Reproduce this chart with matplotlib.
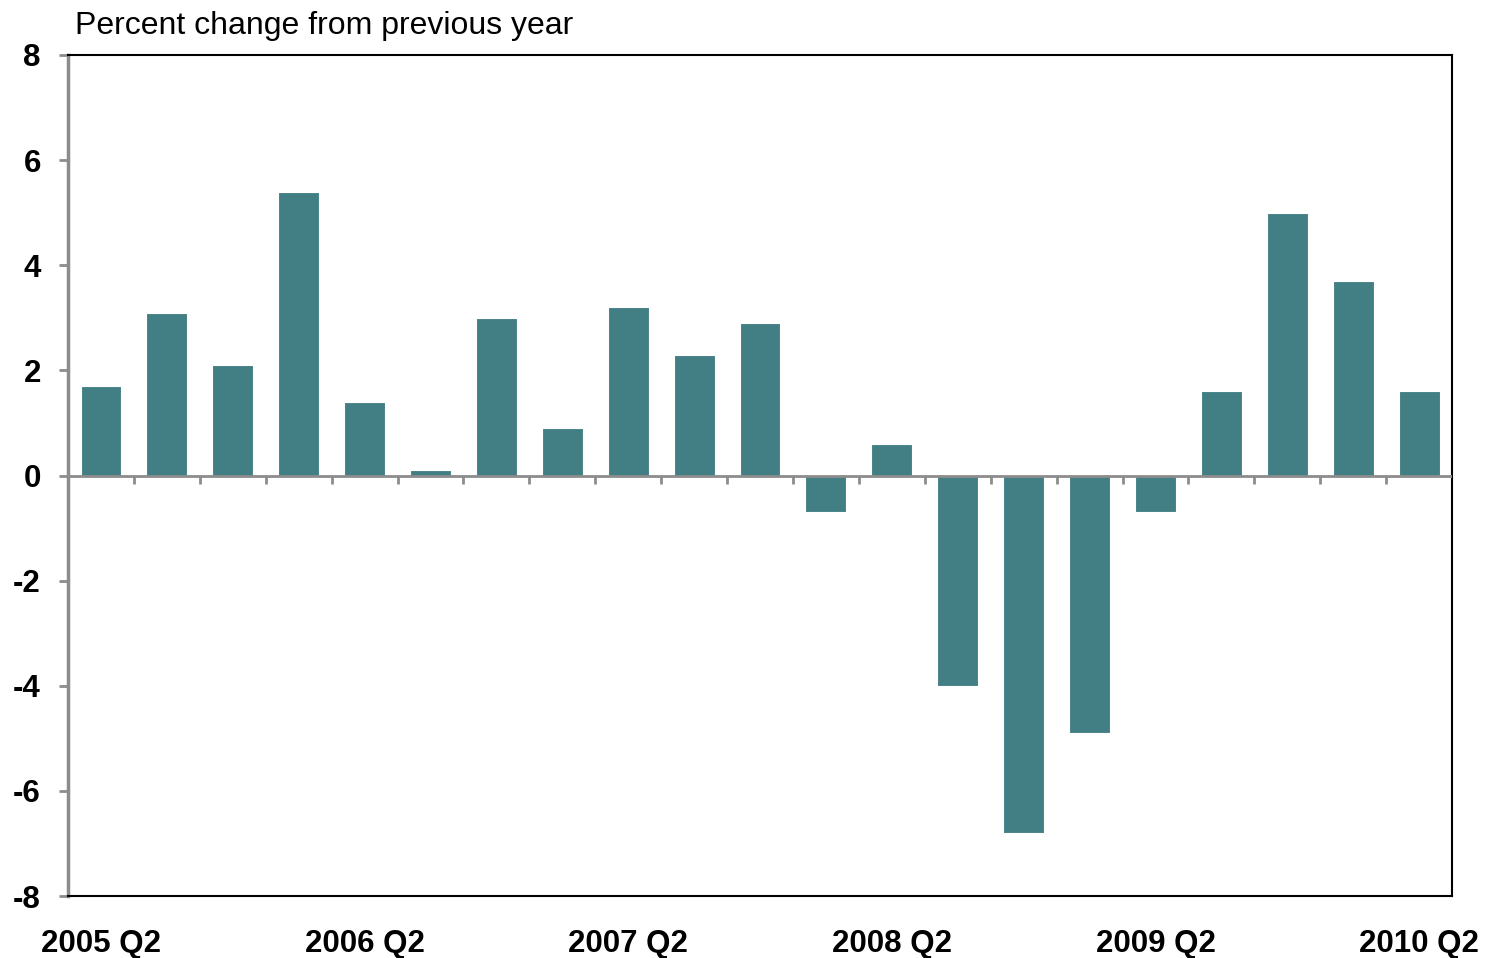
import numpy as np
import matplotlib.pyplot as plt

plt.rcParams['font.family'] = ['Liberation Sans', 'DejaVu Sans']

# Data: percent change from previous year, quarterly 2005 Q2 - 2010 Q2
quarters = ['2005 Q2', '2005 Q3', '2005 Q4', '2006 Q1',
            '2006 Q2', '2006 Q3', '2006 Q4', '2007 Q1',
            '2007 Q2', '2007 Q3', '2007 Q4', '2008 Q1',
            '2008 Q2', '2008 Q3', '2008 Q4', '2009 Q1',
            '2009 Q2', '2009 Q3', '2009 Q4', '2010 Q1',
            '2010 Q2']
values = [1.7, 3.1, 2.1, 5.4, 1.4, 0.1, 3.0, 0.9, 3.2, 2.3, 2.9, -0.7,
          0.6, -4.0, -6.8, -4.9, -0.7, 1.6, 5.0, 3.7, 1.6]
label_every = 4
y_ticks = [-8, -6, -4, -2, 0, 2, 4, 6, 8]

BAR = "#427F85"
GREY = "#8C8C8C"

fig = plt.figure(figsize=(14.85, 9.58), dpi=100, facecolor='white')
ax = fig.add_axes([0.0458, 0.0647, 0.9320, 0.8779])

x = np.arange(len(values))
ax.bar(x, values, width=0.62, color=BAR, edgecolor='white', linewidth=0.8, zorder=2)

ax.set_xlim(-0.5, len(values) - 0.5)
ax.set_ylim(-8, 8)

# zero line with category boundary ticks
ax.axhline(0, color=GREY, lw=2, zorder=3)
bounds = np.arange(len(values) - 1) + 0.5
ax.vlines(bounds, -0.16, 0, color=GREY, lw=2, zorder=3)

ax.set_yticks(y_ticks)
ax.set_yticklabels([str(v) for v in y_ticks], fontsize=22.5, fontweight='bold')
ax.tick_params(axis='y', length=6.5, width=2, color=GREY, pad=13)

ax.set_xticks(x[::label_every])
ax.set_xticklabels(quarters[::label_every], fontsize=22.5, fontweight='bold')
ax.tick_params(axis='x', length=0, pad=24)

for s in ['top', 'right', 'bottom']:
    ax.spines[s].set_color('black')
    ax.spines[s].set_linewidth(1.5)
ax.spines['left'].set_color(GREY)
ax.spines['left'].set_linewidth(2.5)

fig.text(75 / 1485, 1 - 34 / 958, 'Percent change from previous year',
         fontsize=23, ha='left', va='baseline')

fig.savefig('out.png', dpi=100, facecolor='white')
